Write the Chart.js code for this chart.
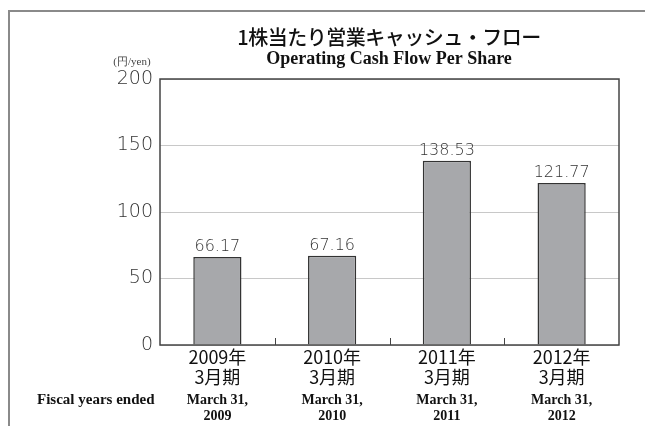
<!DOCTYPE html>
<html>
<head>
<meta charset="utf-8">
<script src="https://cdn.jsdelivr.net/npm/chart.js@4"></script>
<style>
  html, body { margin: 0; padding: 0; background: #fff; }
  #wrap { width: 645px; height: 426px; position: relative; }
</style>
</head>
<body>
<div id="wrap"><canvas id="grafico" width="645" height="426"></canvas></div>
<script>
// dados
const anos = ["2009年", "2010年", "2011年", "2012年"];
const periodo = "3月期";
const anosEn = ["2009", "2010", "2011", "2012"];
const valores = [66.17, 67.16, 138.53, 121.77];
const ticksY = [0, 50, 100, 150, 200];

const tituloJp = "1株当たり営業キャッシュ・フロー";
const tituloEn = "Operating Cash Flow Per Share";
const unidade = "(円/yen)";
const rotuloAnos = "Fiscal years ended";

const serif = "'Liberation Serif', 'DejaVu Serif', serif";
const sans = "'DejaVu Sans', 'Noto Sans CJK JP', sans-serif";

// moldura, títulos, caixa do gráfico, rótulos extras
const extras = {
  id: "extras",
  beforeDraw(chart) {
    const c = chart.ctx;
    c.save();
    c.strokeStyle = "#8a8a8a";
    c.lineWidth = 2;
    c.beginPath();
    c.moveTo(9, 426);
    c.lineTo(9, 11);
    c.lineTo(645, 11);
    c.stroke();

    c.fillStyle = "#111";
    c.textAlign = "center";
    c.textBaseline = "alphabetic";
    c.font = "500 20px 'Noto Sans CJK JP', sans-serif";
    c.letterSpacing = "-0.5px";
    c.fillText(tituloJp, 389, 45);
    c.letterSpacing = "0px";
    c.font = "bold 18px " + serif;
    c.fillText(tituloEn, 389, 64);

    c.fillStyle = "#444";
    c.font = "11px " + serif;
    c.fillText(unidade, 132, 65);
    c.restore();
  },
  afterDatasetsDraw(chart) {
    const c = chart.ctx;
    const a = chart.chartArea;
    const x = chart.scales.x;
    c.save();
    // caixa
    c.strokeStyle = "#444";
    c.lineWidth = 1.5;
    c.strokeRect(a.left, a.top, a.right - a.left, a.bottom - a.top);
    // marcas entre categorias
    c.lineWidth = 1;
    for (let i = 0; i < anos.length - 1; i++) {
      const px = Math.round((x.getPixelForValue(i) + x.getPixelForValue(i + 1)) / 2) + 0.5;
      c.beginPath();
      c.moveTo(px, a.bottom);
      c.lineTo(px, a.bottom - 7);
      c.stroke();
    }
    // valores sobre as barras
    const meta = chart.getDatasetMeta(0);
    c.fillStyle = "#333";
    c.font = "300 16px " + sans;
    c.textAlign = "center";
    c.textBaseline = "bottom";
    meta.data.forEach((b, i) => {
      c.fillText(valores[i].toFixed(2), b.x, b.y - 2);
    });
    // linhas em inglês
    c.fillStyle = "#111";
    c.font = "bold 14px " + serif;
    c.textBaseline = "alphabetic";
    anos.forEach((_, i) => {
      const px = x.getPixelForValue(i);
      c.fillText("March 31,", px, 404);
      c.fillText(anosEn[i], px, 420);
    });
    c.textAlign = "left";
    c.font = "bold 15px " + serif;
    c.fillText(rotuloAnos, 37, 404);
    c.restore();
  }
};

new Chart(document.getElementById("grafico"), {
  type: "bar",
  data: {
    labels: anos.map((a) => [a, periodo]),
    datasets: [{
      data: valores,
      backgroundColor: "#a7a8ab",
      borderColor: "#333",
      borderWidth: 1.5,
      barPercentage: 0.42,
      categoryPercentage: 1,
    }],
  },
  options: {
    responsive: false,
    animation: false,
    events: [],
    layout: { padding: { top: 79, right: 26, left: 0, bottom: 0 } },
    plugins: { legend: { display: false }, tooltip: { enabled: false } },
    scales: {
      x: {
        grid: { display: false, drawTicks: false },
        border: { display: false },
        ticks: {
          color: "#111",
          font: { family: "'Noto Sans CJK JP', sans-serif", size: 18, weight: "400", lineHeight: 1.12 },
          padding: 2,
          maxRotation: 0,
          autoSkip: false,
        },
        afterFit: (s) => { s.height = 81; },
      },
      y: {
        min: 0,
        max: 200,
        afterBuildTicks: (s) => { s.ticks = ticksY.map((v) => ({ value: v })); },
        grid: { color: "#c8c8c8", lineWidth: 1, drawTicks: false },
        border: { display: false },
        ticks: {
          color: "#333",
          font: { family: sans, size: 19, weight: "200" },
          padding: 7,
        },
        afterFit: (s) => { s.width = 160; },
      },
    },
  },
  plugins: [extras],
});
</script>
</body>
</html>
